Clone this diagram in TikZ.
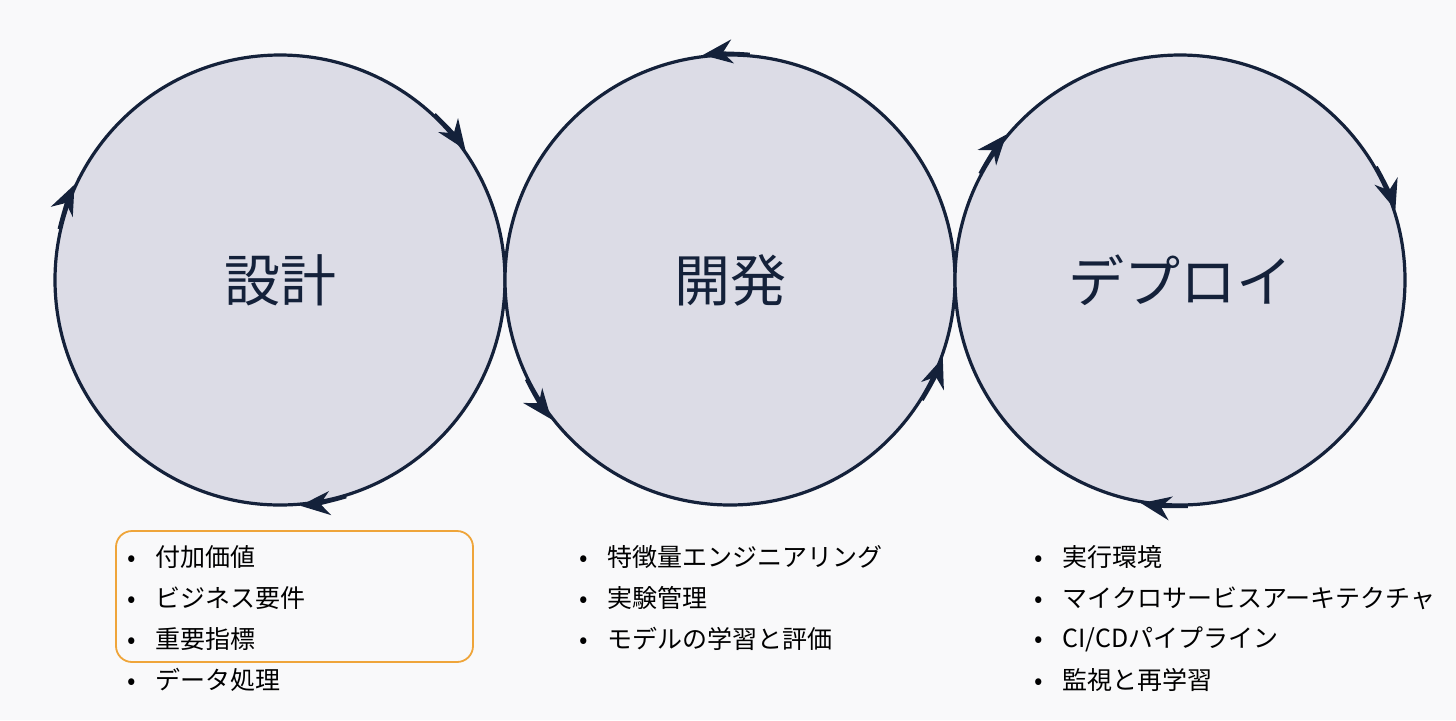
\documentclass[tikz,border=0pt]{standalone}
\usepackage{fontspec}
\setmainfont{Noto Sans CJK JP}
\usetikzlibrary{arrows.meta,positioning}
\definecolor{navy}{HTML}{14213A}
\definecolor{disc}{HTML}{DCDCE6}
\definecolor{frame}{HTML}{EFA53A}
\definecolor{paper}{HTML}{F9F9FA}
\begin{document}
\begin{tikzpicture}[x=0.5pt,y=-0.5pt,
  phase/.style={circle,draw=navy,fill=disc,line width=1.6pt,minimum size=225pt,
    inner sep=0pt,text=navy,font=\fontsize{28}{30}\selectfont},
  flow/.style={draw=navy,line width=1.6pt,-{Stealth[length=15pt,width=12pt]}},
  item/.style={anchor=west,text=black,font=\fontsize{12.5}{14}\selectfont}]
\fill[paper] (0,0) rectangle (1456,720);
\useasboundingbox (0,0) rectangle (1456,720);

% three phases
\node[phase] (P1) at (280,280) {設計};
\node[phase] (P2) at (730,280) {開発};
\node[phase] (P3) at (1180,280) {デプロイ};

% clockwise / counterclockwise arrow tips on the rims
\foreach \c/\a in {P1/35,P1/155,P1/275,P3/140,P3/18,P3/260}
  \draw[flow] (\c.\a+12) arc[start angle=\a+12,end angle=\a,radius=112.5pt];
\foreach \c/\a in {P2/97,P2/218,P2/340}
  \draw[flow] (\c.\a-12) arc[start angle=\a-12,end angle=\a,radius=112.5pt];

% lists
\foreach \t [count=\i] in {付加価値,ビジネス要件,重要指標,データ処理}
  \node[item] (a\i) at (120,{557+41*(\i-1)}) {•\hspace{10pt}\t};
\foreach \t [count=\i] in {特徴量エンジニアリング,実験管理,モデルの学習と評価}
  \node[item] (b\i) at (572,{557+41*(\i-1)}) {•\hspace{10pt}\t};
\foreach \t [count=\i] in {実行環境,マイクロサービスアーキテクチャ,CI/CDパイプライン,監視と再学習}
  \node[item] (c\i) at (1027,{557+41*(\i-1)}) {•\hspace{10pt}\t};

\draw[frame,line width=0.9pt,rounded corners=8pt] (116,531) rectangle (473,662);
\end{tikzpicture}
\end{document}
